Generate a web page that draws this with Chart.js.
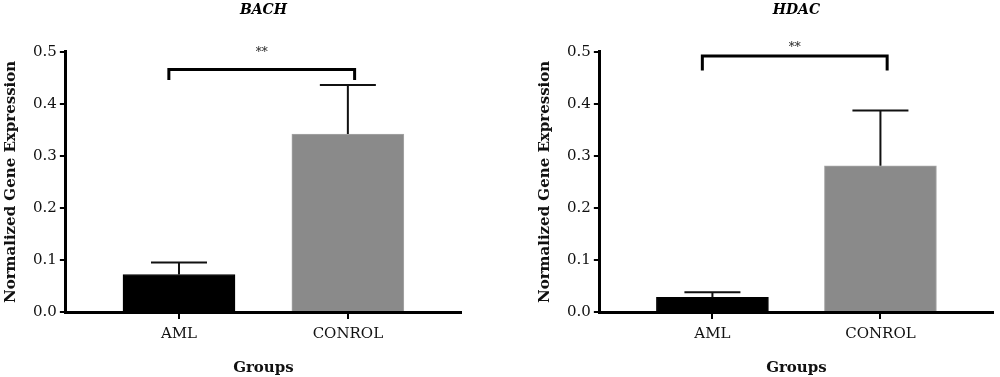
<!DOCTYPE html>
<html>
<head>
<meta charset="utf-8">
<script src="https://cdn.jsdelivr.net/npm/chart.js@4.4.1/dist/chart.umd.min.js"></script>
<style>
  body { margin: 0; background: #fff; }
  .box { position: absolute; top: 0; height: 377px; }
</style>
</head>
<body>
<div class="box" style="left:0; width:468px"><canvas id="bachChart"></canvas></div>
<div class="box" style="left:534px; width:466px"><canvas id="hdacChart"></canvas></div>
<script>
var groups = ['AML', 'CONROL'];
var yTicks = [0.0, 0.1, 0.2, 0.3, 0.4, 0.5];

var bachMeans = [0.072, 0.342];
var bachErrTop = [0.095, 0.436];
var bachBracket = [0.466, 0.446];   // bar of the bracket, end of its legs
var bachStars = 0.497;

var hdacMeans = [0.028, 0.281];
var hdacErrTop = [0.038, 0.387];
var hdacBracket = [0.492, 0.464];
var hdacStars = 0.508;

var serif = '"DejaVu Serif", serif';

// error bars, bracket and stars on top of the bars
var extras = {
    id: 'extras',
    afterDatasetsDraw: function(chart, args, opts) {
        var ctx = chart.ctx;
        var xs = chart.scales.x;
        var ys = chart.scales.y;
        ctx.save();
        ctx.strokeStyle = '#111';
        ctx.lineWidth = 2;
        opts.means.forEach(function(m, i) {
            var px = xs.getPixelForValue(i);
            var top = ys.getPixelForValue(opts.errTop[i]);
            ctx.beginPath();
            ctx.moveTo(px, ys.getPixelForValue(m));
            ctx.lineTo(px, top);
            ctx.moveTo(px - 28, top);
            ctx.lineTo(px + 28, top);
            ctx.stroke();
        });
        var xl = xs.getPixelForValue(-0.06);
        var xr = xs.getPixelForValue(1.04);
        var yb = ys.getPixelForValue(opts.bracket[0]);
        var yl = ys.getPixelForValue(opts.bracket[1]);
        ctx.strokeStyle = '#000';
        ctx.lineWidth = 3;
        ctx.beginPath();
        ctx.moveTo(xl, yl);
        ctx.lineTo(xl, yb);
        ctx.lineTo(xr, yb);
        ctx.lineTo(xr, yl);
        ctx.stroke();
        ctx.fillStyle = '#222';
        ctx.font = '12px ' + serif;
        ctx.textAlign = 'center';
        ctx.textBaseline = 'middle';
        ctx.fillText('**', (xl + xr) / 2, ys.getPixelForValue(opts.stars));
        ctx.restore();
    }
};

function makeChart(id, title, means, errTop, bracket, stars) {
    return new Chart(document.getElementById(id), {
        type: 'bar',
        data: {
            datasets: [{
                data: means.map(function(v, i) { return { x: i, y: v }; }),
                backgroundColor: ['#000000', '#8a8a8a'],
                borderColor: ['#000000', '#a6a6a6'],
                borderWidth: 1,
                barThickness: 112,
            }]
        },
        options: {
            responsive: true,
            maintainAspectRatio: false,
            animation: false,
            layout: { padding: { left: 2, right: 7, bottom: 0 } },
            plugins: {
                legend: { display: false },
                tooltip: { enabled: false },
                title: {
                    display: true,
                    text: title,
                    fullSize: false,
                    color: '#000',
                    font: { family: serif, size: 14, style: 'italic', weight: 'bold' },
                    padding: { top: 2, bottom: 33 },
                },
                extras: { means: means, errTop: errTop, bracket: bracket, stars: stars },
            },
            scales: {
                x: {
                    type: 'linear',
                    min: -0.67,
                    max: 1.67,
                    offset: false,
                    afterBuildTicks: function(axis) {
                        axis.ticks = groups.map(function(g, i) { return { value: i }; });
                    },
                    ticks: {
                        color: '#111',
                        font: { family: serif, size: 15 },
                        padding: 6,
                        callback: function(v) { return groups[v]; },
                    },
                    grid: { offset: false, drawOnChartArea: false, color: '#000', lineWidth: 2, tickLength: 7 },
                    border: { color: '#000', width: 3 },
                    title: {
                        display: true,
                        text: 'Groups',
                        color: '#111',
                        font: { family: serif, size: 15, weight: 'bold' },
                        padding: { top: 10, bottom: 0 },
                    },
                },
                y: {
                    min: 0,
                    max: 0.5,
                    afterBuildTicks: function(axis) {
                        axis.ticks = yTicks.map(function(v) { return { value: v }; });
                    },
                    ticks: {
                        color: '#111',
                        font: { family: serif, size: 15 },
                        padding: 3,
                        callback: function(v) { return v.toFixed(1); },
                    },
                    grid: { drawOnChartArea: false, color: '#000', lineWidth: 2, tickLength: 6 },
                    border: { color: '#000', width: 3 },
                    title: {
                        display: true,
                        text: 'Normalized Gene Expression',
                        color: '#111',
                        font: { family: serif, size: 15, weight: 'bold' },
                        padding: { top: 0, bottom: 10 },
                    },
                },
            },
        },
        plugins: [extras],
    });
}

makeChart('bachChart', 'BACH', bachMeans, bachErrTop, bachBracket, bachStars);
makeChart('hdacChart', 'HDAC', hdacMeans, hdacErrTop, hdacBracket, hdacStars);
</script>
</body>
</html>
